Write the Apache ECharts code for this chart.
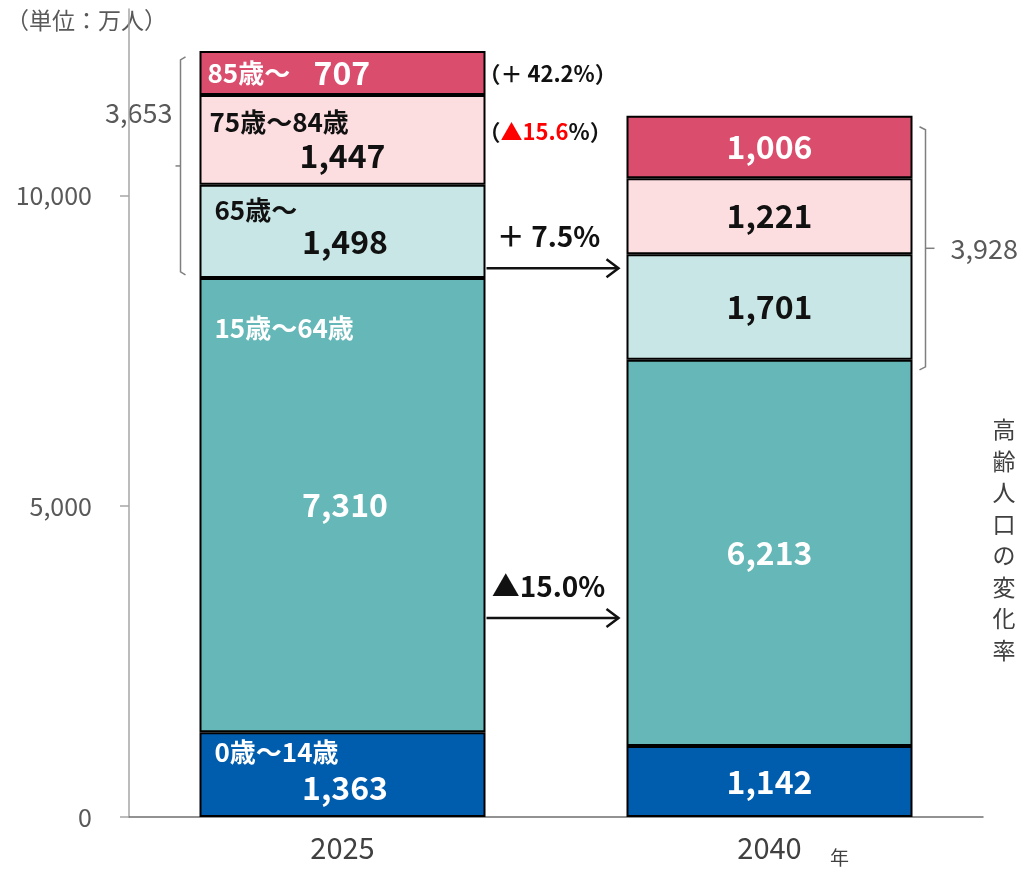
<!DOCTYPE html>
<html><head><meta charset="utf-8">
<script src="https://cdn.jsdelivr.net/npm/echarts@6/dist/echarts.min.js"></script>
<style>html,body{margin:0;padding:0;background:#fff}#c{width:1027px;height:869px}</style>
</head><body><div id="c"></div>
<script>
// ---- data ----
const years = ['2025', '2040'];
const groupNames = ['0歳～14歳', '15歳～64歳', '65歳～', '75歳～84歳', '85歳～'];
const age0_14 = [1363, 1142];
const age15_64 = [7310, 6213];
const age65_74 = [1498, 1701];
const age75_84 = [1447, 1221];
const age85plus = [707, 1006];
const elderlyTotals = ['3,653', '3,928'];
const yTicks = [0, 5000, 10000];
const changeElderly = '＋ 7.5%';
const changeWorking = '▲15.0%';
const change85 = '＋ 42.2%';
const change75 = '▲15.6';
const unitText = '（単位：万人）';
const yearUnit = '年';
const sideTitle = '高齢人口の変化率';

// ---- styles ----
const fam = '"Noto Sans CJK JP", "Noto Sans", sans-serif';
const fmt = v => v.toLocaleString('en-US');
const BW = 286;
const VAL_FS = 32, NAME_FS = 26;

function insideLabel(v, color) {
  return {show: true, position: 'inside', formatter: fmt(v), color, fontSize: VAL_FS,
    fontWeight: 'bold', fontFamily: fam};
}
function topLeftLabel(name, v, color, nameOff, valOff, padLeft) {
  return {show: true, position: 'insideTopLeft', distance: 0, width: 276 - padLeft,
    padding: [nameOff - 15, 0, 0, padLeft],
    formatter: `{n|${name}}\n{v|${fmt(v)}}`,
    rich: {
      n: {fontSize: NAME_FS, fontWeight: 'bold', color, fontFamily: fam, lineHeight: 30, align: 'left'},
      v: {fontSize: VAL_FS, fontWeight: 'bold', color, fontFamily: fam,
          lineHeight: 2 * (valOff - nameOff - 15), align: 'center'}
    }};
}
function label85(name, v, color) {
  return {show: true, position: 'insideLeft', distance: 0, padding: [0, 0, 0, 8],
    formatter: `{n|${name}}{v|${fmt(v)}}`,
    rich: {
      n: {fontSize: NAME_FS, fontWeight: 'bold', color, fontFamily: fam, width: 106},
      v: {fontSize: VAL_FS, fontWeight: 'bold', color, fontFamily: fam}
    }};
}

const colors = ['#005DAE', '#65B8B7', '#C8E6E5', '#FCDDE0', '#DB4D6D'];
const txt = ['#fff', '#fff', '#111', '#111', '#fff'];
const vals = [age0_14, age15_64, age65_74, age75_84, age85plus];
const firstLab = [
  (v) => topLeftLabel(groupNames[0], v, txt[0], 20, 56, 15),
  (v) => topLeftLabel(groupNames[1], v, txt[1], 50, 227, 15),
  (v) => topLeftLabel(groupNames[2], v, txt[2], 25, 57, 15),
  (v) => topLeftLabel(groupNames[3], v, txt[3], 27, 61, 10),
  (v) => label85(groupNames[4], v, txt[4])
];

const series = vals.map((arr, k) => ({
  name: groupNames[k], type: 'bar', stack: 'total', barWidth: BW,
  itemStyle: {color: colors[k], borderColor: '#000', borderWidth: 2},
  emphasis: {disabled: true},
  data: arr.map((v, i) => ({value: v, label: i === 0 ? firstLab[k](v) : insideLabel(v, txt[k])}))
}));

const chart = echarts.init(document.getElementById('c'));
chart.setOption({
  animation: false,
  backgroundColor: '#fff',
  grid: {left: 129, right: 44, top: 9, bottom: 52},
  xAxis: {type: 'category', data: years,
    axisLine: {lineStyle: {color: '#6f6f6f', width: 1.5}},
    axisTick: {show: false},
    axisLabel: {fontSize: 29, color: '#404040', fontFamily: fam, margin: 16}},
  yAxis: {type: 'value', min: 0, max: 13000, interval: 5000,
    splitLine: {show: false},
    axisLine: {show: true, lineStyle: {color: '#a6a6a6', width: 1.5}},
    axisTick: {show: true, length: 9, lineStyle: {color: '#a6a6a6', width: 1.5}},
    axisLabel: {fontSize: 25, color: '#595959', fontFamily: fam, margin: 37, showMaxLabel: false,
      formatter: v => yTicks.includes(v) ? fmt(v) : ''}},
  series
});

// ---- annotations positioned through the axes ----
const px = (ci, v) => chart.convertToPixel({xAxisIndex: 0, yAxisIndex: 0}, [ci, v]);
const cum = i => [age0_14[i], age0_14[i] + age15_64[i],
  age0_14[i] + age15_64[i] + age65_74[i] + age75_84[i] + age85plus[i]];
const c0 = cum(0), c1 = cum(1);
const x0 = px(0, 0)[0], x1 = px(1, 0)[0];
const b0r = x0 + BW / 2, b1l = x1 - BW / 2, b1r = x1 + BW / 2;
const gray = '#7f7f7f';
const els = [];

// left bracket (2025 elderly)
const lT = px(0, c0[2])[1] + 6, lB = px(0, c0[1])[1] - 3, lX = x0 - BW / 2 - 19;
const lM = (lT + lB) / 2;
els.push({type: 'polyline', shape: {points: [[lX + 5, lT], [lX, lT + 3], [lX, lB - 3], [lX + 5, lB]]},
  style: {stroke: gray, lineWidth: 1.5, fill: null}});
els.push({type: 'line', shape: {x1: lX, y1: lM, x2: lX - 5, y2: lM}, style: {stroke: gray, lineWidth: 1.5}});
els.push({type: 'text', x: lX - 8, y: lT + 56, style: {text: elderlyTotals[0], fontSize: 27,
  fill: '#595959', fontFamily: fam, align: 'right', verticalAlign: 'middle'}});

// right bracket (2040 elderly)
const rT = px(1, c1[2])[1] + 11, rB = px(1, c1[1])[1] + 10, rX = b1r + 13;
const rM = (rT + rB) / 2;
els.push({type: 'polyline', shape: {points: [[rX - 6, rT], [rX, rT + 3], [rX, rB - 3], [rX - 6, rB]]},
  style: {stroke: gray, lineWidth: 1.5, fill: null}});
els.push({type: 'line', shape: {x1: rX, y1: rM, x2: rX + 9, y2: rM}, style: {stroke: gray, lineWidth: 1.5}});
els.push({type: 'text', x: rX + 25, y: rM, style: {text: elderlyTotals[1], fontSize: 27,
  fill: '#595959', fontFamily: fam, align: 'left', verticalAlign: 'middle'}});

// arrows
function arrow(yv, label) {
  const y = px(0, yv)[1];
  const xs = b0r + 1, xe = b1l - 8;
  els.push({type: 'line', shape: {x1: xs, y1: y, x2: xe, y2: y}, style: {stroke: '#111', lineWidth: 2.5}});
  els.push({type: 'polyline', shape: {points: [[xe - 12, y - 9], [xe, y], [xe - 12, y + 9]]},
    style: {stroke: '#111', lineWidth: 2.5, fill: null}});
  els.push({type: 'text', x: (xs + xe) / 2 - 4, y: y - 32, style: {text: label, fontSize: 28,
    fontWeight: 'bold', fill: '#111', fontFamily: fam, align: 'center', verticalAlign: 'middle'}});
}
arrow(8830, changeElderly);
arrow(3200, changeWorking);

// change rates next to the 2025 top segments
els.push({type: 'text', x: b0r - 7, y: px(0, c0[2] - age85plus[0] / 2)[1] + 1,
  style: {text: `（${change85}）`, fontSize: 22, fontWeight: 'bold', fill: '#111', fontFamily: fam,
    verticalAlign: 'middle'}});
els.push({type: 'text', x: b0r - 7, y: px(0, c0[2] - age85plus[0])[1] + 37,
  style: {text: `{k|（}{r|${change75}}{k|%）}`, verticalAlign: 'middle', rich: {
    k: {fontSize: 22, fontWeight: 'bold', fill: '#111', fontFamily: fam},
    r: {fontSize: 22, fontWeight: 'bold', fill: '#ff0000', fontFamily: fam}}}});

// unit, year unit and side title
els.push({type: 'text', x: 6, y: 20, style: {text: unitText, fontSize: 23, fill: '#595959',
  fontFamily: fam, verticalAlign: 'middle'}});
els.push({type: 'text', x: x1 + 70, y: 858, style: {text: yearUnit, fontSize: 19, fill: '#404040',
  fontFamily: fam, align: 'center', verticalAlign: 'middle'}});
els.push({type: 'text', x: 1004, y: 414, style: {text: sideTitle.split('').join('\n'), fontSize: 23,
  lineHeight: 31.5, fill: '#404040', fontFamily: fam, align: 'center'}});

chart.setOption({graphic: {elements: els}});
</script>
</body></html>
